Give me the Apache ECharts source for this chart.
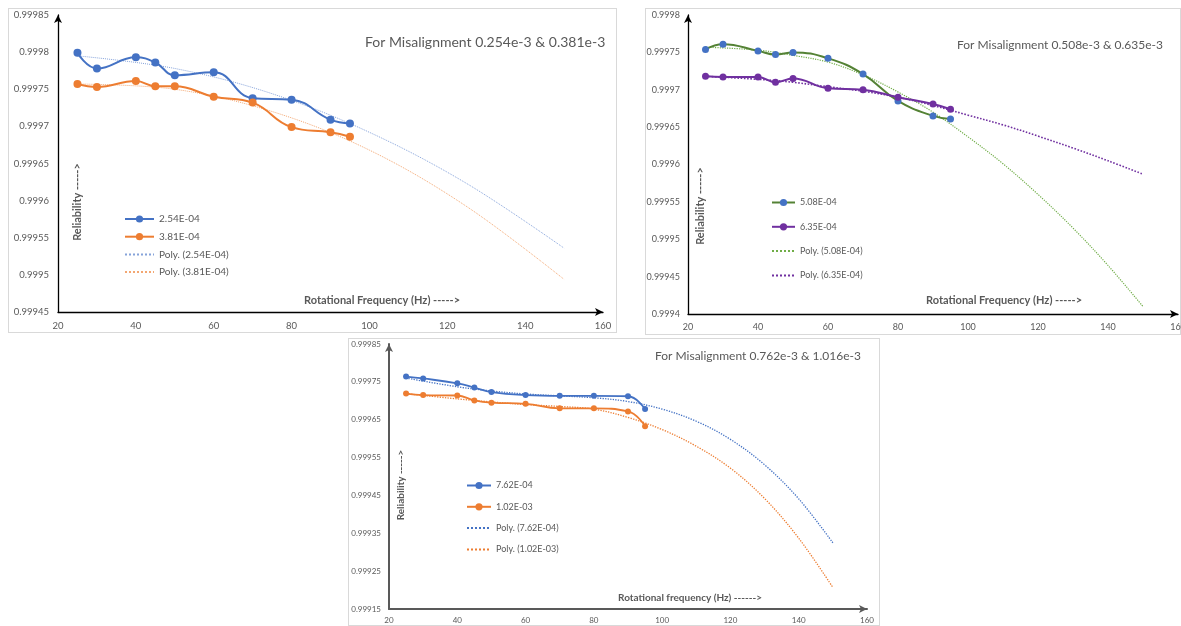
<!DOCTYPE html>
<html>
<head>
<meta charset="utf-8">
<script src="https://cdn.jsdelivr.net/npm/echarts@6/dist/echarts.min.js"></script>
<style>
  body { margin: 0; background: #fff; width: 1181px; height: 626px; position: relative; overflow: hidden; }
  .box { position: absolute; outline: 1px solid #d9d9d9; outline-offset: -1px; background: #fff; }
</style>
</head>
<body>
<div id="c1" class="box" style="left:8px;top:8px;width:609px;height:325px"></div>
<div id="c2" class="box" style="left:645px;top:8px;width:536px;height:327px"></div>
<div id="c3" class="box" style="left:348px;top:338px;width:532px;height:288px"></div>
<script>
// measured points (rotational frequency, Hz)
var freq = [25, 30, 40, 45, 50, 60, 70, 80, 90, 95];

// chart 1 : misalignment 0.254e-3 & 0.381e-3
var rel254 = [0.999799, 0.999778, 0.999793, 0.999786, 0.999769, 0.999773, 0.999738, 0.999736, 0.999709, 0.999704];
var rel381 = [0.999757, 0.999753, 0.999761, 0.999754, 0.999754, 0.999740, 0.999732, 0.999699, 0.999692, 0.999686];
var trendFreq1 = [25, 50, 75, 100, 125, 150];
var poly254 = [0.999795, 0.999778, 0.999744, 0.999692, 0.999623, 0.999536];
var poly381 = [0.999757, 0.999750, 0.999720, 0.999668, 0.999592, 0.999494];

// chart 2 : misalignment 0.508e-3 & 0.635e-3
var rel508 = [0.999754, 0.999761, 0.999752, 0.999747, 0.999750, 0.999742, 0.999721, 0.999685, 0.999665, 0.999661];
var rel635 = [0.999718, 0.999717, 0.999717, 0.999710, 0.999715, 0.999702, 0.999700, 0.999690, 0.999681, 0.999674];
var trendFreq2 = [25, 40, 50, 60, 70, 80, 90, 100, 110, 120, 130, 140, 150];
var poly508 = [0.999757, 0.999753, 0.999746, 0.999737, 0.999720, 0.999697, 0.999670, 0.999637, 0.999601, 0.999560, 0.999515, 0.999465, 0.999410];
var poly635 = [0.999718, 0.999714, 0.999710, 0.999704, 0.999698, 0.999690, 0.999679, 0.999666, 0.999653, 0.999638, 0.999622, 0.999605, 0.999587];

// chart 3 : misalignment 0.762e-3 & 1.016e-3
var rel762 = [0.999764, 0.999759, 0.999746, 0.999735, 0.999723, 0.999715, 0.999713, 0.999713, 0.999712, 0.999678];
var rel1016 = [0.999719, 0.999715, 0.999714, 0.999701, 0.999695, 0.999692, 0.999680, 0.999680, 0.999672, 0.999633];
var poly762 = [0.999760, 0.999737, 0.999726, 0.999718, 0.999713, 0.999708, 0.999698, 0.999678, 0.999646, 0.999598, 0.999531, 0.999441, 0.999325];
var poly1016 = [0.999719, 0.999705, 0.999697, 0.999690, 0.999685, 0.999678, 0.999656, 0.999624, 0.999580, 0.999522, 0.999442, 0.999337, 0.999207];

var xTicks = [20, 40, 60, 80, 100, 120, 140, 160];

function pairs(xs, ys) {
    var out = [];
    for (var i = 0; i < xs.length; i++) {
        out.push([xs[i], ys[i]]);
    }
    return out;
}

function axisText(t, x, y, size, rot) {
    return {
        type: 'text', x: x, y: y, rotation: rot ? Math.PI / 2 : 0, z: 10,
        style: { text: t, fill: '#595959', font: 'bold ' + size + 'px Lato', align: 'center', verticalAlign: 'middle' }
    };
}

function buildOption(c) {
    var series = [];
    for (var k = 0; k < 2; k++) {
        series.push({
            name: c.names[k], type: 'line', smooth: 0.45, data: pairs(freq, c.vals[k]),
            symbol: 'circle', symbolSize: c.dot, z: 3,
            lineStyle: { color: c.lines[k], width: c.lw },
            itemStyle: { color: c.dots[k] }
        });
    }
    for (var k = 0; k < 2; k++) {
        series.push({
            name: c.names[k + 2], type: 'line', smooth: 0.35, data: pairs(c.tf, c.polys[k]),
            symbol: 'none', z: 2,
            lineStyle: { color: c.trends[k], width: c.tw[k], type: 'dotted' },
            itemStyle: { color: c.trends[k], opacity: 0 }
        });
    }
    var step = c.step;
    return {
        animation: false,
        textStyle: { fontFamily: 'Lato' },
        title: {
            text: c.title, left: c.titlePos[0], top: c.titlePos[1], padding: 0,
            textStyle: { fontSize: c.titleSize, fontWeight: 'normal', color: '#595959', fontFamily: 'Lato' }
        },
        legend: {
            orient: 'vertical', left: c.legendPos[0], top: c.legendPos[1], padding: 0,
            itemWidth: c.legendW, itemHeight: 9, itemGap: c.legendGap,
            textStyle: { fontSize: c.legendSize, color: '#595959', lineHeight: 9, fontFamily: 'Lato' },
            data: [c.names[0], c.names[1],
                { name: c.names[2], itemStyle: { opacity: 0 } },
                { name: c.names[3], itemStyle: { opacity: 0 } }]
        },
        grid: { left: c.grid[0], top: c.grid[1], width: c.grid[2], height: c.grid[3], outerBoundsMode: 'none' },
        xAxis: {
            type: 'value', min: xTicks[0], max: xTicks[xTicks.length - 1], interval: 20,
            axisLine: { symbol: ['none', 'arrow'], symbolSize: [6, 8], lineStyle: { color: c.axisColor, width: c.axisW } },
            axisTick: { show: false }, splitLine: { show: false },
            axisLabel: { color: '#595959', fontSize: c.tickSize, margin: c.xMargin, fontFamily: 'Lato' }
        },
        yAxis: {
            type: 'value', min: c.ymin, max: c.ymax, interval: step,
            axisLine: { show: true, symbol: ['none', 'arrow'], symbolSize: [6, 8], lineStyle: { color: c.axisColor, width: c.axisW } },
            axisTick: { show: false }, splitLine: { show: false },
            axisLabel: {
                color: '#595959', fontSize: c.tickSize, margin: c.yMargin, fontFamily: 'Lato',
                formatter: function (v) {
                    var n = Math.round((v - c.ymin) / step);
                    if (c.labelEvery && n % c.labelEvery !== 0) return '';
                    return String(parseFloat(v.toFixed(5)));
                }
            }
        },
        graphic: [
            axisText(c.yName, c.yNamePos[0], c.yNamePos[1], c.nameSize, true),
            axisText(c.xName, c.xNamePos[0], c.xNamePos[1], c.nameSize, false)
        ],
        series: series
    };
}

var cfg1 = {
    title: 'For Misalignment 0.254e-3 & 0.381e-3', titlePos: [357, 27], titleSize: 14,
    names: ['2.54E-04', '3.81E-04', 'Poly. (2.54E-04)', 'Poly. (3.81E-04)'],
    vals: [rel254, rel381], tf: trendFreq1, polys: [poly254, poly381],
    lines: ['#4472C4', '#ED7D31'], dots: ['#4472C4', '#ED7D31'], trends: ['#86A3DA', '#F3A772'],
    dot: 8, lw: 2, tw: [1, 1],
    legendPos: [116, 206], legendW: 29, legendGap: 7.7, legendSize: 10,
    grid: [50, 7, 545, 297], ymin: 0.99945, ymax: 0.99985, step: 0.00005,
    axisColor: '#000', axisW: 1.3, xMargin: 9, yMargin: 9, tickSize: 9.5,
    yName: 'Reliability ----->', yNamePos: [69, 194], xName: 'Rotational Frequency (Hz) ----->', xNamePos: [374, 292], nameSize: 11
};
var cfg2 = {
    title: 'For Misalignment 0.508e-3 & 0.635e-3', titlePos: [312, 31], titleSize: 12,
    names: ['5.08E-04', '6.35E-04', 'Poly. (5.08E-04)', 'Poly. (6.35E-04)'],
    vals: [rel508, rel635], tf: trendFreq2, polys: [poly508, poly635],
    lines: ['#548235', '#7030A0'], dots: ['#4472C4', '#7030A0'], trends: ['#70AD47', '#7030A0'],
    dot: 7, lw: 2, tw: [1.2, 1.6],
    legendPos: [126, 190], legendW: 23, legendGap: 15.3, legendSize: 9,
    grid: [43, 7, 490, 299], ymin: 0.9994, ymax: 0.9998, step: 0.00005,
    axisColor: '#000', axisW: 1.3, xMargin: 9, yMargin: 8, tickSize: 9,
    yName: 'Reliability ----->', yNamePos: [55, 198], xName: 'Rotational Frequency (Hz) ----->', xNamePos: [359, 292], nameSize: 11
};
var cfg3 = {
    title: 'For Misalignment 0.762e-3 & 1.016e-3', titlePos: [307, 12], titleSize: 12,
    names: ['7.62E-04', '1.02E-03', 'Poly. (7.62E-04)', 'Poly. (1.02E-03)'],
    vals: [rel762, rel1016], tf: trendFreq2, polys: [poly762, poly1016],
    lines: ['#4472C4', '#ED7D31'], dots: ['#4472C4', '#ED7D31'], trends: ['#4472C4', '#ED7D31'],
    dot: 6, lw: 1.8, tw: [1.3, 1.3],
    legendPos: [118, 143], legendW: 24, legendGap: 12.3, legendSize: 9,
    grid: [41, 6, 478, 265], ymin: 0.99915, ymax: 0.99985, step: 0.00005, labelEvery: 2,
    axisColor: '#595959', axisW: 2, xMargin: 7, yMargin: 8, tickSize: 8,
    yName: 'Reliability ----->', yNamePos: [53, 147], xName: 'Rotational frequency (Hz) ------>', xNamePos: [342, 260], nameSize: 10
};

echarts.init(document.getElementById('c1')).setOption(buildOption(cfg1));
echarts.init(document.getElementById('c2')).setOption(buildOption(cfg2));
echarts.init(document.getElementById('c3')).setOption(buildOption(cfg3));
</script>
</body>
</html>
